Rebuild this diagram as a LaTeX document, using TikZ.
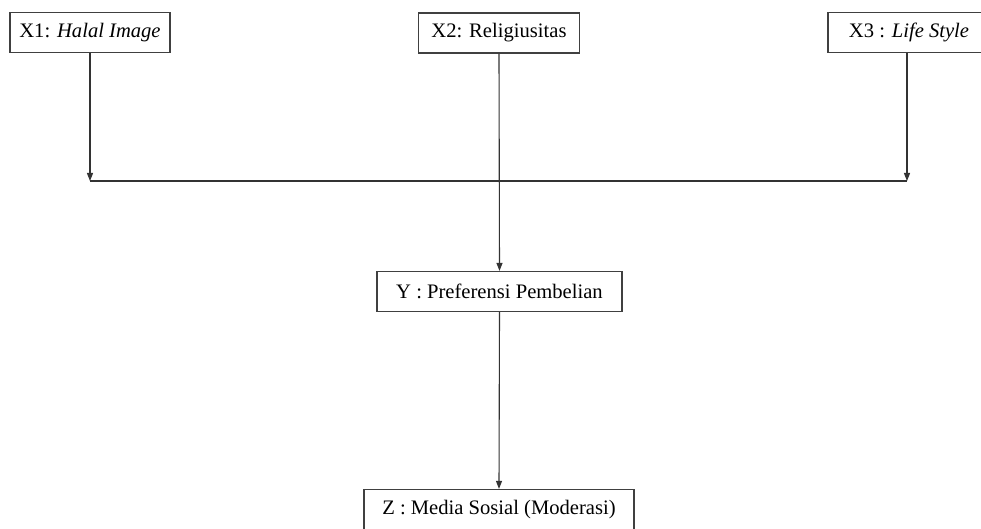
\documentclass[tikz,border=0pt]{standalone}
\usepackage{fontspec}
\setmainfont{Liberation Serif}
\usetikzlibrary{arrows.meta}
\tikzset{
  varbox/.style={draw=black!75, line width=0.6pt, minimum height=20pt, inner sep=2pt, font=\fontsize{10.3}{12}\selectfont},
  link/.style={draw=black!80, line width=0.55pt},
  tip/.style={-{Triangle[length=4pt,width=3pt]}}
}
\begin{document}
\begin{tikzpicture}[x=0.5pt,y=-0.5pt]
\useasboundingbox (0,0) rectangle (981,529);
\clip (0,0) rectangle (981,529);

\node[varbox, minimum width=80pt] (x1) at (90,32.5){X1: \textit{Halal Image}};
\node[varbox, minimum width=80.5pt] (x2) at (499,33){X2: Religiusitas};
\node[varbox, minimum width=81pt] (x3) at (909,32.5){X3 : \textit{Life Style}};

\coordinate (j1) at (90,181);
\coordinate (j3) at (907,181);

\node[varbox, minimum width=122.5pt] (y) at (499.5,291.5){Y : Preferensi Pembelian};
\node[varbox, minimum width=135pt] (z) at (499,509.5){Z : Media Sosial (Moderasi)};

\draw[link, tip](x1.south) -- (j1);
\draw[link, tip](x3.south -| j3) -- (j3);
\draw[link](j1) -- (j3);
\draw[link, tip](x2.south) -- (y.north);
\draw[link, tip](y.south) -- (z.north);

\end{tikzpicture}
\end{document}
